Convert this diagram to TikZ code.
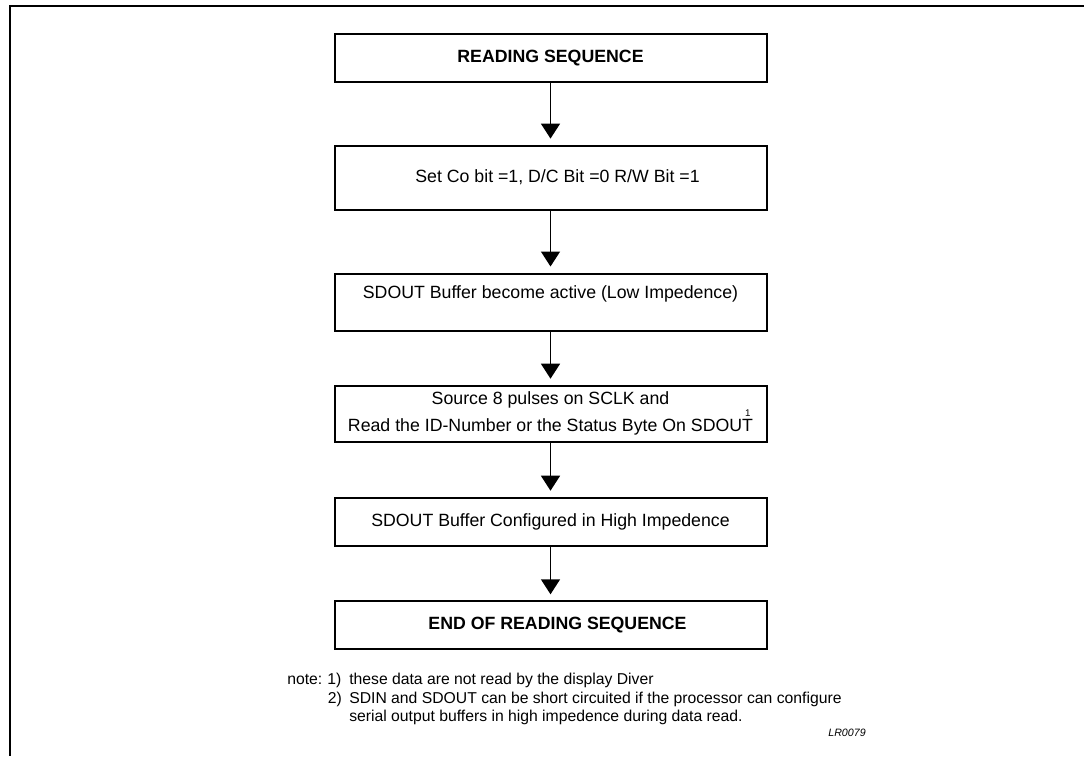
\documentclass[tikz,border=0pt]{standalone}
\usepackage{fontspec}
\setmainfont{Liberation Sans}
\usetikzlibrary{arrows.meta,positioning}

\tikzset{
  stepbox/.style={draw, line width=1.5pt, minimum width=324pt, minimum height=36pt,
    inner sep=0pt, align=center, font=\fontsize{13.3pt}{17.8pt}\selectfont},
  flow/.style={-{Triangle[length=11.25pt,width=14.25pt]}, line width=1.1pt, shorten >=4.5pt},
  notetext/.style={inner sep=0pt, anchor=base west, font=\fontsize{11.8pt}{14pt}\selectfont}
}

\begin{document}
\begin{tikzpicture}[x=0.75pt,y=-0.75pt]
\useasboundingbox (0,0) rectangle (1084,756);

\draw[line width=1.5pt] (1084,6) -- (10,6) -- (10,756);

\node[stepbox] (start) at (550.5,57.7) {\textbf{READING SEQUENCE}};
\node[stepbox, minimum height=48pt] (setbit) at (550.5,177.6) {\hspace*{10.5pt}Set Co bit =1, D/C Bit =0 R/W Bit =1};
\node[stepbox, minimum height=42.75pt] (active) at (550.5,302) {SDOUT Buffer become active (Low Impedence)\\[-3.5pt]\mbox{}};
\node[stepbox, minimum height=42pt] (pulses) at (550.5,413.7) {Source 8 pulses on SCLK and\\
  Read the ID-Number or the Status Byte On SDOUT\rlap{\kern-6pt\raisebox{11.5pt}{\fontsize{7.3pt}{8pt}\selectfont 1}}};
\node[stepbox] (highz) at (550.5,521.7) {SDOUT Buffer Configured in High Impedence};
\node[stepbox] (stop) at (550.5,625.3) {\hspace*{10.5pt}\textbf{END OF READING SEQUENCE}};

\draw[flow] (start) -- (setbit);
\draw[flow] (setbit) -- (active);
\draw[flow] (active) -- (pulses);
\draw[flow] (pulses) -- (highz);
\draw[flow] (highz) -- (stop);

\node[notetext] (note) at (287,684.4) {note:};
\node[notetext] (n1) at (327,684.4) {1)};
\node[notetext] (n1txt) at (349,684.4) {these data are not read by the display Diver};
\node[notetext] (n2) at (327.7,703) {2)};
\node[notetext] (n2txt) at (349,703) {SDIN and SDOUT can be short circuited if the processor can configure};
\node[notetext] (n3txt) at (349,721.7) {serial output buffers in high impedence during data read.};
\node[inner sep=0pt, font=\fontsize{8pt}{9.6pt}\selectfont\itshape] (lr) at (847,733) {LR0079};

\end{tikzpicture}
\end{document}
